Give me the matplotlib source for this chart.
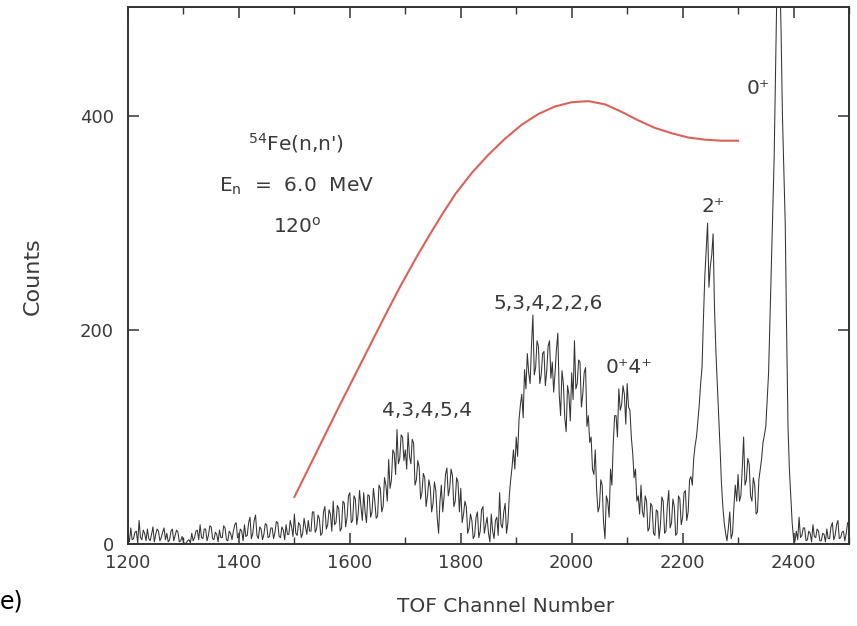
import numpy as np
import matplotlib
matplotlib.use("Agg")
import matplotlib.pyplot as plt
from matplotlib.ticker import MultipleLocator

# ---- data (one value per 2.5 channels) ----
channel_start = 1200
channel_step = 2.5
counts_1200 = [8, 2, 15, 4, 5, 11, 12, 1, 22, 6, 4, 13, 10, 3, 14, 5, 3, 9, 16, 2,
               9, 14, 12, 3, 6, 11, 15, 4, 10, 2, 4, 12, 14, 3, 8, 13, 11, 2, 3, 7]
counts_1300 = [2, 0, 1, 3, 4, 1, 10, 3, 6, 12, 13, 4, 18, 6, 5, 14, 14, 3, 8, 17,
               16, 5, 4, 11, 9, 2, 13, 6, 6, 17, 15, 4, 3, 12, 10, 4, 12, 18, 20, 6]
counts_1400 = [6, 14, 12, 3, 18, 7, 8, 20, 25, 5, 10, 22, 27, 8, 5, 16, 14, 4, 9, 19,
               18, 6, 7, 15, 15, 5, 11, 21, 20, 7, 6, 16, 13, 4, 18, 9, 9, 22, 16, 7]
counts_1500 = [28, 10, 8, 20, 18, 6, 10, 24, 16, 9, 22, 12, 12, 30, 30, 11, 14, 27, 24, 8,
               10, 30, 35, 14, 18, 32, 28, 12, 40, 18, 20, 36, 33, 12, 15, 40, 38, 16, 25, 45]
counts_1600 = [48, 20, 22, 45, 42, 18, 28, 50, 35, 22, 48, 30, 20, 46, 45, 25, 30, 52, 40, 24,
               26, 55, 52, 30, 35, 62, 55, 40, 79, 52, 60, 88, 85, 65, 107, 75, 80, 102, 100, 78]
counts_1700 = [88, 70, 104, 82, 75, 98, 94, 55, 60, 78, 72, 42, 48, 66, 62, 35, 45, 60, 53, 30,
               38, 58, 50, 25, 10, 40, 55, 30, 45, 65, 71, 45, 52, 70, 64, 35, 40, 62, 58, 30]
counts_1800 = [52, 20, 28, 40, 35, 10, 15, 28, 22, 5, 8, 25, 30, 6, 12, 32, 35, 10, 18, 25,
               10, 2, 28, 12, 5, 22, 25, 8, 48, 18, 15, 30, 38, 10, 20, 45, 60, 72, 88, 70]
counts_1900 = [100, 82, 116, 130, 140, 118, 163, 145, 178, 160, 150, 185, 214, 158, 165, 190, 185, 150, 158, 178,
               180, 148, 162, 185, 190, 155, 170, 142, 160, 182, 197, 140, 120, 162, 150, 118, 105, 148, 140, 115]
counts_2000 = [160, 135, 190, 145, 150, 172, 170, 128, 140, 160, 165, 110, 120, 95, 100, 70, 65, 88, 50, 30,
               35, 60, 55, 20, 5, 45, 40, 25, 70, 55, 95, 120, 120, 100, 145, 125, 130, 148, 140, 112]
counts_2100 = [150, 128, 125, 100, 85, 62, 70, 40, 45, 28, 55, 30, 25, 45, 40, 12, 15, 38, 35, 10,
               8, 32, 30, 5, 18, 44, 40, 10, 12, 36, 50, 15, 20, 42, 35, 8, 10, 45, 42, 18]
counts_2200 = [25, 48, 50, 22, 30, 60, 63, 55, 80, 92, 100, 115, 130, 150, 165, 210, 250, 275, 300, 240,
               260, 270, 290, 220, 180, 150, 120, 90, 57, 35, 20, 10, 3, 15, 30, 5, 10, 35, 55, 40]
counts_2300 = [65, 40, 45, 70, 100, 55, 60, 80, 75, 45, 40, 62, 55, 28, 30, 60, 70, 80, 95, 102,
               110, 135, 160, 210, 260, 310, 360, 440, 520, 560, 540, 480, 400, 350, 300, 200, 110, 70, 45, 20]
counts_2400 = [5, 2, 12, 4, 25, 6, 8, 15, 15, 3, 4, 12, 10, 2, 18, 7, 6, 14, 12, 3,
               3, 10, 9, 2, 14, 5, 5, 16, 20, 4, 8, 18, 22, 5, 6, 11, 12, 3, 10, 20, 18]

efficiency_channels = [1500, 1540, 1580, 1620, 1660, 1690, 1720, 1745, 1765, 1790,
                       1820, 1850, 1880, 1910, 1940, 1970, 2000, 2030, 2060, 2090,
                       2120, 2150, 2180, 2210, 2240, 2270, 2300]
efficiency_counts = [44, 86, 128, 169, 210, 240, 268, 290, 307, 327,
                     347, 364, 379, 392, 402, 409, 413, 414, 411, 404,
                     396, 389, 384, 380, 378, 377, 377]

x_ticks = [1200, 1400, 1600, 1800, 2000, 2200, 2400]
y_ticks = [0, 200, 400]

labels = [
    (1503, 368, r"$^{54}$Fe(n,n')"),
    (1503, 329, r"E$_\mathregular{n}$  =  6.0  MeV"),
    (1506, 291, r"120$^\mathregular{o}$"),
    (1739, 120, "4,3,4,5,4"),
    (1957, 220, "5,3,4,2,2,6"),
    (2104, 160, "0\u207a4\u207a"),
    (2256, 310, "2\u207a"),
    (2337, 421, "0\u207a"),
]

# ---- build series ----
spectrum = (counts_1200 + counts_1300 + counts_1400 + counts_1500 + counts_1600 +
            counts_1700 + counts_1800 + counts_1900 + counts_2000 + counts_2100 +
            counts_2200 + counts_2300 + counts_2400)
channels = channel_start + channel_step * np.arange(len(spectrum))

plt.rcParams['font.family'] = ['DejaVu Sans']
plt.rcParams['mathtext.fontset'] = 'dejavusans'

fig = plt.figure(figsize=(8.57, 6.26), dpi=100)
ax = fig.add_axes([128 / 857, 1 - 544 / 626, (849 - 128) / 857, (544 - 7) / 626])

txt_color = '#3a3a3a'
ax.plot(channels, spectrum, color='#333333', lw=0.75)
ax.plot(efficiency_channels, efficiency_counts, color='#d9625a', lw=1.5)

ax.set_xlim(1200, 2500)
ax.set_ylim(0, 502)
ax.set_xticks(x_ticks)
ax.set_yticks(y_ticks)
ax.xaxis.set_minor_locator(MultipleLocator(100))
ax.tick_params(which='both', direction='in', top=True, right=True,
               colors='#333333', labelcolor=txt_color, labelsize=13)
ax.tick_params(which='major', length=8, width=1.1)
ax.tick_params(which='minor', length=5, width=1.0)
ax.tick_params(axis='x', pad=7)
ax.tick_params(axis='y', pad=10)
for s in ax.spines.values():
    s.set_color('#333333')
    s.set_linewidth(1.4)

ax.set_ylabel("Counts", fontsize=16, color=txt_color)
ax.yaxis.set_label_coords((33 - 128) / 721, 0.498)
ax.set_xlabel("TOF Channel Number", fontsize=14.5, color=txt_color)
ax.xaxis.set_label_coords((506 - 128) / 721, (544 - 607) / 537)
ax.xaxis.label.set_va('center')
ax.yaxis.label.set_va('center')

for x, y, t in labels:
    ax.text(x, y, t, ha='center', va='baseline', fontsize=14.5, color=txt_color)

fig.text(0.0, 1 - 601 / 626, "e)", fontsize=17, color='black', ha='left', va='center')

fig.savefig("out.png", dpi=100)
